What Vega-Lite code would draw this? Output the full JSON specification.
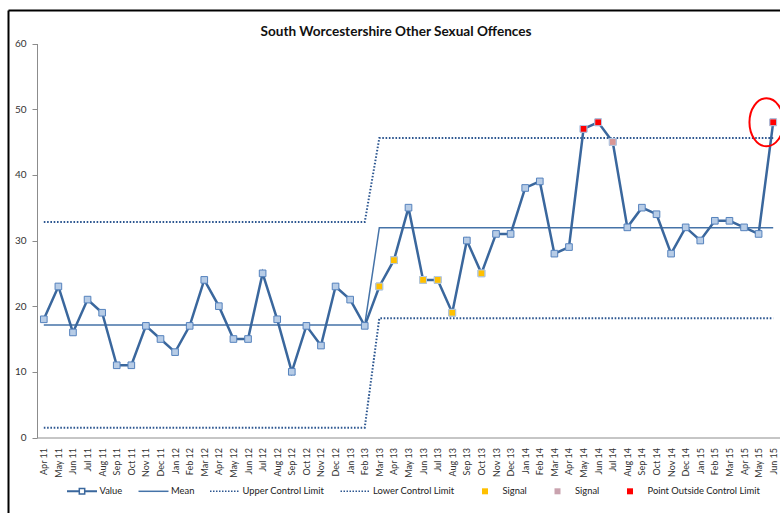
{
  "$schema": "https://vega.github.io/schema/vega-lite/v6.json",
  "autosize": {"type": "none"},
  "padding": {"left": 8, "top": 10, "right": 0, "bottom": 0},
  "width": 772,
  "height": 503,
  "background": "white",
  "config": {"view": {"stroke": null}, "font": "Lato"},
  "title": {"text": "South Worcestershire Other Sexual Offences", "font": "Lato", "fontSize": 13.6, "fontWeight": "bold", "color": "#111111", "anchor": "middle", "frame": "group", "offset": -29, "dx": 2},
  "datasets": {
    "spc": [
      {"month": "Apr 11", "value": 18, "mean": 17.15, "ucl": 32.8, "lcl": 1.5, "flag": null},
      {"month": "May 11", "value": 23, "mean": 17.15, "ucl": 32.8, "lcl": 1.5, "flag": null},
      {"month": "Jun 11", "value": 16, "mean": 17.15, "ucl": 32.8, "lcl": 1.5, "flag": null},
      {"month": "Jul 11", "value": 21, "mean": 17.15, "ucl": 32.8, "lcl": 1.5, "flag": null},
      {"month": "Aug 11", "value": 19, "mean": 17.15, "ucl": 32.8, "lcl": 1.5, "flag": null},
      {"month": "Sep 11", "value": 11, "mean": 17.15, "ucl": 32.8, "lcl": 1.5, "flag": null},
      {"month": "Oct 11", "value": 11, "mean": 17.15, "ucl": 32.8, "lcl": 1.5, "flag": null},
      {"month": "Nov 11", "value": 17, "mean": 17.15, "ucl": 32.8, "lcl": 1.5, "flag": null},
      {"month": "Dec 11", "value": 15, "mean": 17.15, "ucl": 32.8, "lcl": 1.5, "flag": null},
      {"month": "Jan 12", "value": 13, "mean": 17.15, "ucl": 32.8, "lcl": 1.5, "flag": null},
      {"month": "Feb 12", "value": 17, "mean": 17.15, "ucl": 32.8, "lcl": 1.5, "flag": null},
      {"month": "Mar 12", "value": 24, "mean": 17.15, "ucl": 32.8, "lcl": 1.5, "flag": null},
      {"month": "Apr 12", "value": 20, "mean": 17.15, "ucl": 32.8, "lcl": 1.5, "flag": null},
      {"month": "May 12", "value": 15, "mean": 17.15, "ucl": 32.8, "lcl": 1.5, "flag": null},
      {"month": "Jun 12", "value": 15, "mean": 17.15, "ucl": 32.8, "lcl": 1.5, "flag": null},
      {"month": "Jul 12", "value": 25, "mean": 17.15, "ucl": 32.8, "lcl": 1.5, "flag": null},
      {"month": "Aug 12", "value": 18, "mean": 17.15, "ucl": 32.8, "lcl": 1.5, "flag": null},
      {"month": "Sep 12", "value": 10, "mean": 17.15, "ucl": 32.8, "lcl": 1.5, "flag": null},
      {"month": "Oct 12", "value": 17, "mean": 17.15, "ucl": 32.8, "lcl": 1.5, "flag": null},
      {"month": "Nov 12", "value": 14, "mean": 17.15, "ucl": 32.8, "lcl": 1.5, "flag": null},
      {"month": "Dec 12", "value": 23, "mean": 17.15, "ucl": 32.8, "lcl": 1.5, "flag": null},
      {"month": "Jan 13", "value": 21, "mean": 17.15, "ucl": 32.8, "lcl": 1.5, "flag": null},
      {"month": "Feb 13", "value": 17, "mean": 17.15, "ucl": 32.8, "lcl": 1.5, "flag": null},
      {"month": "Mar 13", "value": 23, "mean": 31.95, "ucl": 45.6, "lcl": 18.15, "flag": "Signal"},
      {"month": "Apr 13", "value": 27, "mean": 31.95, "ucl": 45.6, "lcl": 18.15, "flag": "Signal"},
      {"month": "May 13", "value": 35, "mean": 31.95, "ucl": 45.6, "lcl": 18.15, "flag": null},
      {"month": "Jun 13", "value": 24, "mean": 31.95, "ucl": 45.6, "lcl": 18.15, "flag": "Signal"},
      {"month": "Jul 13", "value": 24, "mean": 31.95, "ucl": 45.6, "lcl": 18.15, "flag": "Signal"},
      {"month": "Aug 13", "value": 19, "mean": 31.95, "ucl": 45.6, "lcl": 18.15, "flag": "Signal"},
      {"month": "Sep 13", "value": 30, "mean": 31.95, "ucl": 45.6, "lcl": 18.15, "flag": null},
      {"month": "Oct 13", "value": 25, "mean": 31.95, "ucl": 45.6, "lcl": 18.15, "flag": "Signal"},
      {"month": "Nov 13", "value": 31, "mean": 31.95, "ucl": 45.6, "lcl": 18.15, "flag": null},
      {"month": "Dec 13", "value": 31, "mean": 31.95, "ucl": 45.6, "lcl": 18.15, "flag": null},
      {"month": "Jan 14", "value": 38, "mean": 31.95, "ucl": 45.6, "lcl": 18.15, "flag": null},
      {"month": "Feb 14", "value": 39, "mean": 31.95, "ucl": 45.6, "lcl": 18.15, "flag": null},
      {"month": "Mar 14", "value": 28, "mean": 31.95, "ucl": 45.6, "lcl": 18.15, "flag": null},
      {"month": "Apr 14", "value": 29, "mean": 31.95, "ucl": 45.6, "lcl": 18.15, "flag": null},
      {"month": "May 14", "value": 47, "mean": 31.95, "ucl": 45.6, "lcl": 18.15, "flag": "Point Outside Control Limit"},
      {"month": "Jun 14", "value": 48, "mean": 31.95, "ucl": 45.6, "lcl": 18.15, "flag": "Point Outside Control Limit"},
      {"month": "Jul 14", "value": 45, "mean": 31.95, "ucl": 45.6, "lcl": 18.15, "flag": "Signal2"},
      {"month": "Aug 14", "value": 32, "mean": 31.95, "ucl": 45.6, "lcl": 18.15, "flag": null},
      {"month": "Sep 14", "value": 35, "mean": 31.95, "ucl": 45.6, "lcl": 18.15, "flag": null},
      {"month": "Oct 14", "value": 34, "mean": 31.95, "ucl": 45.6, "lcl": 18.15, "flag": null},
      {"month": "Nov 14", "value": 28, "mean": 31.95, "ucl": 45.6, "lcl": 18.15, "flag": null},
      {"month": "Dec 14", "value": 32, "mean": 31.95, "ucl": 45.6, "lcl": 18.15, "flag": null},
      {"month": "Jan 15", "value": 30, "mean": 31.95, "ucl": 45.6, "lcl": 18.15, "flag": null},
      {"month": "Feb 15", "value": 33, "mean": 31.95, "ucl": 45.6, "lcl": 18.15, "flag": null},
      {"month": "Mar 15", "value": 33, "mean": 31.95, "ucl": 45.6, "lcl": 18.15, "flag": null},
      {"month": "Apr 15", "value": 32, "mean": 31.95, "ucl": 45.6, "lcl": 18.15, "flag": null},
      {"month": "May 15", "value": 31, "mean": 31.95, "ucl": 45.6, "lcl": 18.15, "flag": null},
      {"month": "Jun 15", "value": 48, "mean": 31.95, "ucl": 45.6, "lcl": 18.15, "flag": "Point Outside Control Limit"}
    ],
    "series": [
      {"series": "Value"},
      {"series": "Mean"},
      {"series": "Upper Control Limit"},
      {"series": "Lower Control Limit"},
      {"series": "Signal"},
      {"series": "Signal2"},
      {"series": "Point Outside Control Limit"}
    ]
  },
  "resolve": {"scale": {"x": "independent", "y": "independent"}, "axis": {"x": "independent", "y": "independent"}},
  "layer": [
    {
      "data": {"name": "spc"},
      "encoding": {
        "x": {
          "field": "month", "type": "ordinal",
          "sort": ["Apr 11","May 11","Jun 11","Jul 11","Aug 11","Sep 11","Oct 11","Nov 11","Dec 11","Jan 12","Feb 12","Mar 12","Apr 12","May 12","Jun 12","Jul 12","Aug 12","Sep 12","Oct 12","Nov 12","Dec 12","Jan 13","Feb 13","Mar 13","Apr 13","May 13","Jun 13","Jul 13","Aug 13","Sep 13","Oct 13","Nov 13","Dec 13","Jan 14","Feb 14","Mar 14","Apr 14","May 14","Jun 14","Jul 14","Aug 14","Sep 14","Oct 14","Nov 14","Dec 14","Jan 15","Feb 15","Mar 15","Apr 15","May 15","Jun 15"],
          "scale": {"type": "point", "range": [28.5, 772.5], "padding": 0.5},
          "axis": {"orient": "bottom", "offset": -75.5, "title": null, "labelAngle": 270, "ticks": false, "domainColor": "#8c8c8c", "domainWidth": 1, "labelPadding": 10, "labelFont": "Lato", "labelFontSize": 9, "labelColor": "#333333", "grid": false}
        }
      },
      "layer": [
        {
          "mark": {"type": "line", "stroke": "#2C5690", "strokeWidth": 2, "strokeDash": [1.6, 1.7]},
          "encoding": {"y": {"field": "ucl", "type": "quantitative", "scale": {"domain": [0, 60], "range": [427.5, 33.5], "nice": false}, "axis": {"orient": "left", "offset": -29, "title": null, "values": [0,10,20,30,40,50,60], "domainColor": "#8c8c8c", "tickColor": "#8c8c8c", "tickSize": 5, "labelPadding": 6, "labelFont": "Lato", "labelFontSize": 10, "labelColor": "#333333", "grid": false}}}
        },
        {
          "mark": {"type": "line", "stroke": "#2C5690", "strokeWidth": 2, "strokeDash": [1.6, 1.7]},
          "encoding": {"y": {"field": "lcl", "type": "quantitative", "scale": {"domain": [0, 60], "range": [427.5, 33.5], "nice": false}, "axis": {"orient": "left", "offset": -29, "title": null, "values": [0,10,20,30,40,50,60], "domainColor": "#8c8c8c", "tickColor": "#8c8c8c", "tickSize": 5, "labelPadding": 6, "labelFont": "Lato", "labelFontSize": 10, "labelColor": "#333333", "grid": false}}}
        },
        {
          "mark": {"type": "line", "stroke": "#4573A8", "strokeWidth": 1.5},
          "encoding": {"y": {"field": "mean", "type": "quantitative", "scale": {"domain": [0, 60], "range": [427.5, 33.5], "nice": false}, "axis": {"orient": "left", "offset": -29, "title": null, "values": [0,10,20,30,40,50,60], "domainColor": "#8c8c8c", "tickColor": "#8c8c8c", "tickSize": 5, "labelPadding": 6, "labelFont": "Lato", "labelFontSize": 10, "labelColor": "#333333", "grid": false}}}
        },
        {
          "mark": {"type": "line", "stroke": "#3A679D", "strokeWidth": 2.5},
          "encoding": {"y": {"field": "value", "type": "quantitative", "scale": {"domain": [0, 60], "range": [427.5, 33.5], "nice": false}, "axis": {"orient": "left", "offset": -29, "title": null, "values": [0,10,20,30,40,50,60], "domainColor": "#8c8c8c", "tickColor": "#8c8c8c", "tickSize": 5, "labelPadding": 6, "labelFont": "Lato", "labelFontSize": 10, "labelColor": "#333333", "grid": false}}}
        },
        {
          "mark": {"type": "point", "shape": "square", "filled": true, "fill": "#B7CCE6", "stroke": "#5582BD", "strokeWidth": 1, "size": 44, "opacity": 1},
          "encoding": {"y": {"field": "value", "type": "quantitative", "scale": {"domain": [0, 60], "range": [427.5, 33.5], "nice": false}, "axis": {"orient": "left", "offset": -29, "title": null, "values": [0,10,20,30,40,50,60], "domainColor": "#8c8c8c", "tickColor": "#8c8c8c", "tickSize": 5, "labelPadding": 6, "labelFont": "Lato", "labelFontSize": 10, "labelColor": "#333333", "grid": false}}}
        },
        {
          "transform": [{"filter": "datum.flag != null"}],
          "mark": {"type": "point", "shape": "square", "filled": true, "stroke": "#B7CCE6", "strokeWidth": 1, "size": 46, "opacity": 1},
          "encoding": {
            "y": {"field": "value", "type": "quantitative", "scale": {"domain": [0, 60], "range": [427.5, 33.5], "nice": false}, "axis": {"orient": "left", "offset": -29, "title": null, "values": [0,10,20,30,40,50,60], "domainColor": "#8c8c8c", "tickColor": "#8c8c8c", "tickSize": 5, "labelPadding": 6, "labelFont": "Lato", "labelFontSize": 10, "labelColor": "#333333", "grid": false}},
            "fill": {"field": "flag", "type": "nominal", "scale": {"domain": ["Signal", "Signal2", "Point Outside Control Limit"], "range": ["#FFC000", "#D99694", "#FF0000"]}, "legend": null}
          }
        },
        {
          "transform": [{"filter": "datum.month == 'Jun 15'"}],
          "mark": {"type": "point", "shape": "M -0.99 0 A 0.71 1 0 1 1 0.43 0 A 0.71 1 0 1 1 -0.99 0 Z", "filled": false, "stroke": "#FF0000", "strokeWidth": 2, "size": 2304, "opacity": 1},
          "encoding": {"y": {"field": "value", "type": "quantitative", "scale": {"domain": [0, 60], "range": [427.5, 33.5], "nice": false}, "axis": {"orient": "left", "offset": -29, "title": null, "values": [0,10,20,30,40,50,60], "domainColor": "#8c8c8c", "tickColor": "#8c8c8c", "tickSize": 5, "labelPadding": 6, "labelFont": "Lato", "labelFontSize": 10, "labelColor": "#333333", "grid": false}}}
        }
      ]
    },
    {
      "data": {"name": "series"},
      "mark": {"type": "point", "filled": true, "opacity": 0},
      "encoding": {
        "x": {"datum": 0, "type": "quantitative", "scale": {"domain": [0, 1]}, "axis": {"orient": "top", "offset": 0, "title": null, "ticks": false, "labels": false, "grid": false, "domainColor": "#000000", "domainWidth": 2}},
        "y": {"datum": 0, "type": "quantitative", "scale": {"domain": [0, 1]}, "axis": {"orient": "left", "offset": 0, "title": null, "ticks": false, "labels": false, "grid": false, "domainColor": "#000000", "domainWidth": 2}},
        "color": {
          "field": "series", "type": "nominal",
          "scale": {"domain": ["Value", "Mean", "Upper Control Limit", "Lower Control Limit", "Signal", "Signal2", "Point Outside Control Limit"], "range": ["#3A679D", "#4573A8", "#2C5690", "#2C5690", "#FFC000", "#C9A2AE", "#FF0000"]},
          "legend": {"orient": "none", "legendX": 59, "legendY": 466, "direction": "horizontal", "columns": 7, "title": null, "symbolSize": 900, "symbolStrokeWidth": 0, "symbolOpacity": 1, "labelOffset": 2.5, "columnPadding": 15.5, "padding": 0, "labelFont": "Lato", "labelFontSize": 9.4, "labelColor": "#222222", "labelLimit": 0, "labelExpr": "datum.label == 'Signal2' ? 'Signal' : datum.label"}
        },
        "shape": {
          "field": "series", "type": "nominal",
          "scale": {"domain": ["Value", "Mean", "Upper Control Limit", "Lower Control Limit", "Signal", "Signal2", "Point Outside Control Limit"], "range": [
            "M-1,-0.07H-0.23V0.07H-1Z M0.23,-0.07H1V0.07H0.23Z M-0.23,-0.23H0.23V0.23H-0.23Z M-0.13,-0.13V0.13H0.13V-0.13Z",
            "M-1,-0.05H1V0.05H-1Z",
            "M-1,-0.05h0.1v0.1h-0.1Z M-0.8,-0.05h0.1v0.1h-0.1Z M-0.6,-0.05h0.1v0.1h-0.1Z M-0.4,-0.05h0.1v0.1h-0.1Z M-0.2,-0.05h0.1v0.1h-0.1Z M0,-0.05h0.1v0.1h-0.1Z M0.2,-0.05h0.1v0.1h-0.1Z M0.4,-0.05h0.1v0.1h-0.1Z M0.6,-0.05h0.1v0.1h-0.1Z M0.8,-0.05h0.1v0.1h-0.1Z",
            "M-1,-0.05h0.1v0.1h-0.1Z M-0.8,-0.05h0.1v0.1h-0.1Z M-0.6,-0.05h0.1v0.1h-0.1Z M-0.4,-0.05h0.1v0.1h-0.1Z M-0.2,-0.05h0.1v0.1h-0.1Z M0,-0.05h0.1v0.1h-0.1Z M0.2,-0.05h0.1v0.1h-0.1Z M0.4,-0.05h0.1v0.1h-0.1Z M0.6,-0.05h0.1v0.1h-0.1Z M0.8,-0.05h0.1v0.1h-0.1Z",
            "M-0.2,-0.2H0.2V0.2H-0.2Z",
            "M-0.2,-0.2H0.2V0.2H-0.2Z",
            "M-0.2,-0.2H0.2V0.2H-0.2Z"
          ]},
          "legend": {"orient": "none", "legendX": 59, "legendY": 466, "direction": "horizontal", "columns": 7, "title": null, "symbolSize": 900, "symbolStrokeWidth": 0, "symbolOpacity": 1, "labelOffset": 2.5, "columnPadding": 15.5, "padding": 0, "labelFont": "Lato", "labelFontSize": 9.4, "labelColor": "#222222", "labelLimit": 0, "labelExpr": "datum.label == 'Signal2' ? 'Signal' : datum.label"}
        }
      }
    }
  ]
}
